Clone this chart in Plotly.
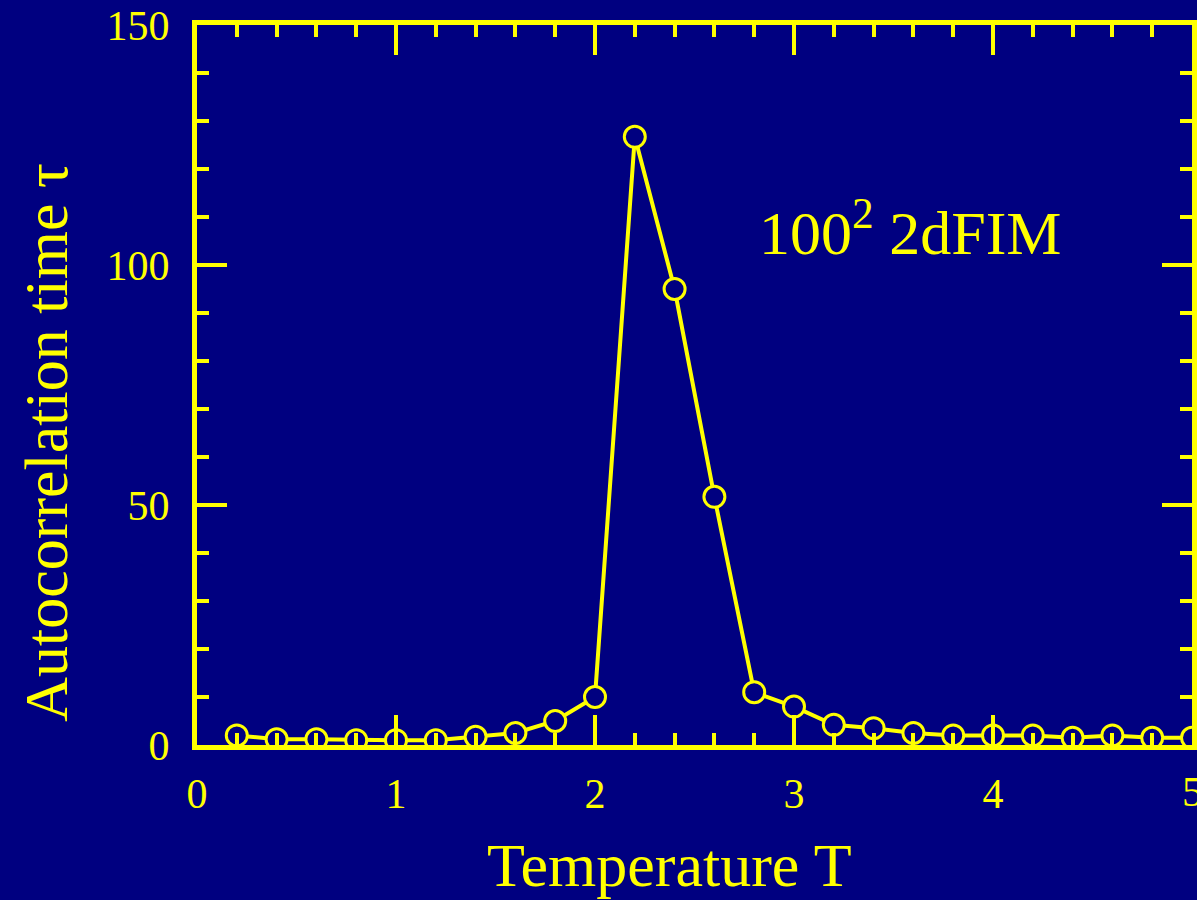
import plotly.graph_objects as go

temperature = [0.2, 0.4, 0.6, 0.8, 1.0, 1.2, 1.4, 1.6, 1.8, 2.0, 2.2, 2.4, 2.6,
               2.8, 3.0, 3.2, 3.4, 3.6, 3.8, 4.0, 4.2, 4.4, 4.6, 4.8, 5.0]
tau = [2.0, 1.2, 1.2, 1.0, 1.0, 1.0, 1.7, 2.5, 5.0, 10.0, 126.7, 95.0, 51.7,
       11.0, 8.0, 4.2, 3.5, 2.5, 2.0, 2.0, 2.0, 1.5, 2.0, 1.5, 1.5]
x_ticks = [0, 1, 2, 3, 4, 5]
y_ticks = [0, 50, 100, 150]

NAVY = "#000080"
YEL = "#FFFF00"
SERIF = "Liberation Serif, Times New Roman, serif"

fig = go.Figure()
fig.add_trace(go.Scatter(
    x=temperature, y=tau, mode="lines+markers",
    line=dict(color=YEL, width=4),
    marker=dict(symbol="circle", size=21, color=NAVY,
                line=dict(color=YEL, width=3)),
    showlegend=False,
))

axis_common = dict(
    showline=True, linecolor=YEL, linewidth=5, mirror="ticks",
    ticks="inside", ticklen=30, tickwidth=4, tickcolor=YEL,
    showgrid=False, zeroline=False,
    tickfont=dict(family=SERIF, size=42, color=YEL),
)

fig.update_xaxes(range=[0, 5], tickvals=x_ticks, ticklabelstandoff=8,
                 minor=dict(ticks="inside", ticklen=12, tickwidth=4,
                            tickcolor=YEL, dtick=0.2, showgrid=False),
                 **axis_common)
fig.update_yaxes(range=[0, 150], tickvals=y_ticks, ticklabelstandoff=14,
                 minor=dict(ticks="inside", ticklen=12, tickwidth=4,
                            tickcolor=YEL, dtick=10, showgrid=False),
                 **axis_common)

# last x tick label, half cut by the right edge as in the reference
fig.add_annotation(text=str(x_ticks[-1]), xref="x", yref="paper",
                   x=x_ticks[-1], y=-(792 - 745) / 720,
                   xanchor="center", yanchor="middle", showarrow=False,
                   font=dict(family=SERIF, size=42, color=YEL))
fig.add_annotation(text="Temperature T", xref="paper", yref="paper",
                   x=(672 - 197) / 1000, y=-(865 - 745) / 720,
                   xanchor="center", yanchor="middle", showarrow=False,
                   font=dict(family=SERIF, size=62, color=YEL))
fig.add_annotation(text="Autocorrelation time τ", xref="paper", yref="paper",
                   x=-(197 - 45) / 1000, y=(745 - 442) / 720, textangle=-90,
                   xanchor="center", yanchor="middle", showarrow=False,
                   font=dict(family=SERIF, size=62, color=YEL))
fig.add_annotation(text="100<sup>2</sup> 2dFIM", xref="paper", yref="paper",
                   x=(760 - 197) / 1000, y=(745 - 228) / 720,
                   xanchor="left", yanchor="middle", showarrow=False,
                   font=dict(family=SERIF, size=62, color=YEL))

fig.update_layout(
    width=1197, height=900,
    paper_bgcolor=NAVY, plot_bgcolor=NAVY,
    margin=dict(l=197, r=0, t=25, b=155),
)

fig.write_html("out.html")
